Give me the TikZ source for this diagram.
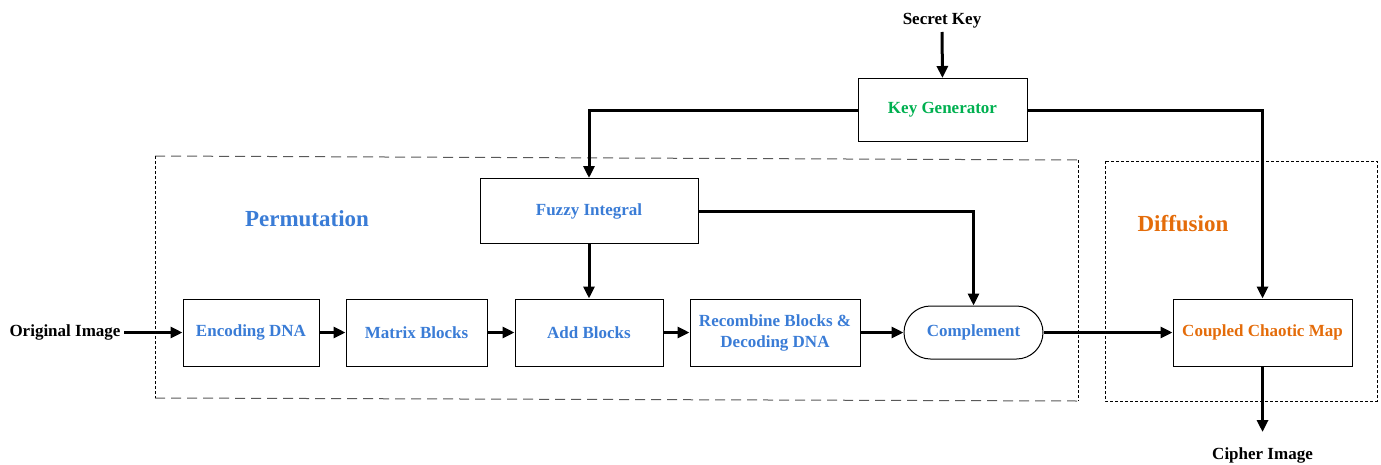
\documentclass[tikz,border=0pt]{standalone}
\usepackage{fontspec}
\setmainfont{Liberation Serif}
\usetikzlibrary{arrows.meta,shapes.misc}
\definecolor{stageblue}{RGB}{58,124,214}
\definecolor{keygreen}{RGB}{0,176,80}
\definecolor{difforange}{RGB}{228,108,10}
\begin{document}
\begin{tikzpicture}[x=1pt,y=-1pt,
  lbl/.style={font=\fontsize{17}{21}\selectfont\bfseries},
  stagebox/.style={draw, line width=1pt, lbl, text=stageblue, align=center,
    inner sep=2pt, minimum height=67pt},
  title/.style={font=\fontsize{23}{26}\selectfont\bfseries},
  flow/.style={line width=3pt, -{Triangle[length=12pt,width=11pt]}},
  longdash/.style={line width=1pt, black!65, dash pattern=on 10pt off 6pt},
  shortdash/.style={line width=0.9pt, black, dash pattern=on 3pt off 2pt}]
\useasboundingbox (0,0) rectangle (1381,464);

% stage frames
\draw[longdash] (155,156) -- (1078,160);
\draw[longdash] (155,398) -- (1078,401);
\draw[shortdash] (155,156) -- (155,398);
\draw[shortdash] (1078,160) -- (1078,401);
\draw[shortdash] (1105,161) rectangle (1377,401);

\node[title, text=stageblue] (perm) at (307,219) {Permutation};
\node[title, text=difforange] (diff) at (1183,224) {Diffusion};

% key path
\node[lbl] (secret) at (942,21) {Secret Key};
\node[stagebox, text=keygreen, minimum width=169pt, minimum height=63pt] (keygen) at (942.5,110) {Key Generator};
\node[stagebox, minimum width=218pt, minimum height=65pt] (fuzzy) at (589,211) {Fuzzy Integral};

% main pipeline
\node[lbl] (orig) at (65,332.5) {Original Image};
\node[stagebox, minimum width=136pt] (enc) at (251,332.5) {Encoding DNA};
\node[stagebox, minimum width=141pt] (mat) at (416.5,332.5) {Matrix Blocks};
\node[stagebox, minimum width=148pt] (add) at (589,332.5) {Add Blocks};
\node[stagebox, minimum width=170pt] (recomb) at (775,332.5) {Recombine Blocks \&\\Decoding DNA};
\node[stagebox, rounded rectangle, minimum width=143pt, minimum height=53pt] (comp) at (973.5,332.5) {Complement};
\node[stagebox, text=difforange, minimum width=179pt] (coupled) at (1262.5,332.5) {Coupled Chaotic Map};
\node[lbl] (cipher) at (1262.5,455) {Cipher Image};
\coordinate (cipherin) at (1262.5,432);

% connectors
\draw[flow] (secret.south) -- (keygen.north);
\draw[flow] (keygen.west) -| (fuzzy.north);
\draw[flow] (keygen.east) -| (coupled.north);
\draw[flow] (fuzzy.south) -- (add.north);
\draw[flow] (fuzzy.east) -| (comp.north);
\draw[flow] (orig.east) -- (enc.west);
\draw[flow] (enc.east) -- (mat.west);
\draw[flow] (mat.east) -- (add.west);
\draw[flow] (add.east) -- (recomb.west);
\draw[flow] (recomb.east) -- (comp.west);
\draw[flow] (comp.east) -- (coupled.west);
\draw[flow] (coupled.south) -- (cipherin);
\end{tikzpicture}
\end{document}
